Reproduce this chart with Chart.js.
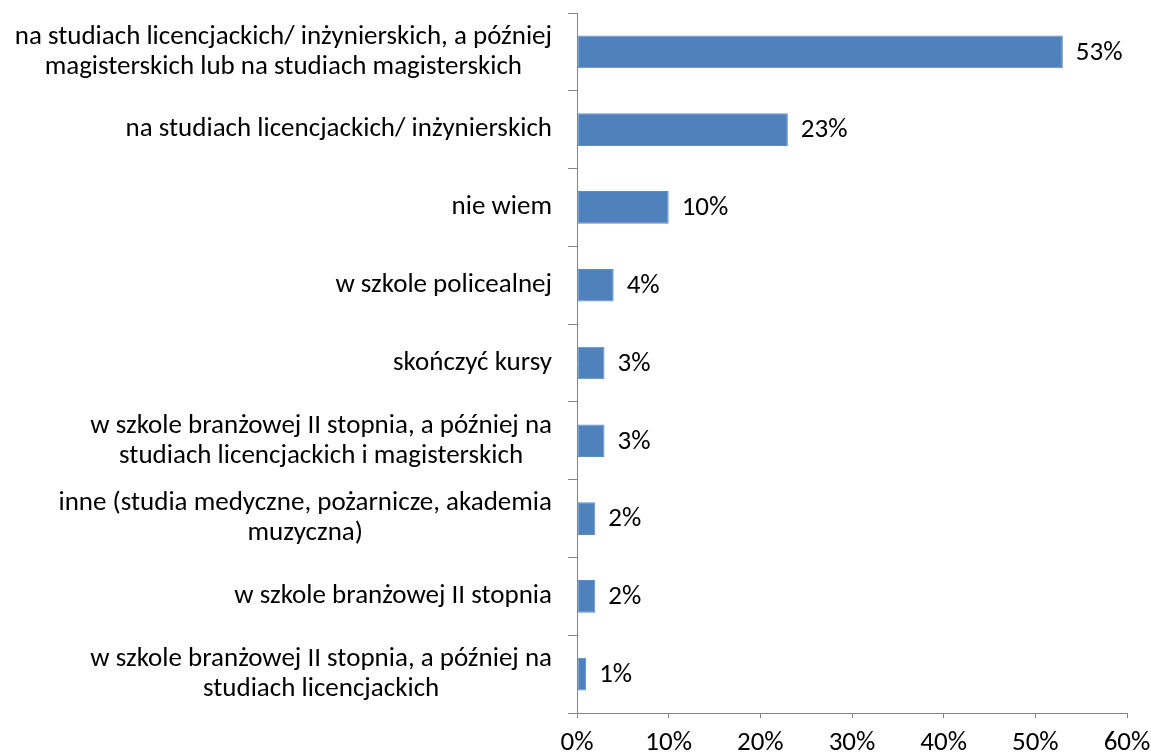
<!DOCTYPE html>
<html>
<head>
<meta charset="utf-8">
<script src="https://cdn.jsdelivr.net/npm/chart.js@4.4.1/dist/chart.umd.min.js"></script>
<style>
  html, body { margin: 0; padding: 0; background: #fff; }
</style>
</head>
<body>
<canvas id="barChart" width="1151" height="752"></canvas>
<script>
// Data
const categories = [
    ['na studiach licencjackich/ inżynierskich, a później', 'magisterskich lub na studiach magisterskich'],
    ['na studiach licencjackich/ inżynierskich'],
    ['nie wiem'],
    ['w szkole policealnej'],
    ['skończyć kursy'],
    ['w szkole branżowej II stopnia, a później na', 'studiach licencjackich i magisterskich'],
    ['inne (studia medyczne, pożarnicze, akademia', 'muzyczna)'],
    ['w szkole branżowej II stopnia'],
    ['w szkole branżowej II stopnia, a później na', 'studiach licencjackich']
];
const values = [53, 23, 10, 4, 3, 3, 2, 2, 1];
const xTicks = [0, 10, 20, 30, 40, 50, 60];

const fontFamily = "Carlito, Calibri, 'Open Sans', sans-serif";
const fontSize = 27;
const textColor = '#000000';
const axisColor = '#868686';

// Category labels: each block centred on itself, block right-aligned to the axis
const categoryLabels = {
    id: 'categoryLabels',
    afterDraw(chart) {
        const ctx = chart.ctx;
        const y = chart.scales.y;
        const lineH = 30;
        ctx.save();
        ctx.font = fontSize + 'px ' + fontFamily;
        ctx.fillStyle = textColor;
        ctx.textAlign = 'center';
        ctx.textBaseline = 'middle';
        categories.forEach((lines, i) => {
            const py = y.getPixelForTick(i);
            const maxW = Math.max(...lines.map(l => ctx.measureText(l).width));
            const cx = chart.chartArea.left - 25 - maxW / 2;
            const top = py - (lines.length - 1) * lineH / 2;
            lines.forEach((l, j) => ctx.fillText(l, cx, top + j * lineH));
        });
        ctx.restore();
    }
};

// Value labels at the end of each bar
const valueLabels = {
    id: 'valueLabels',
    afterDatasetsDraw(chart) {
        const ctx = chart.ctx;
        const meta = chart.getDatasetMeta(0);
        ctx.save();
        ctx.font = fontSize + 'px ' + fontFamily;
        ctx.fillStyle = textColor;
        ctx.textAlign = 'left';
        ctx.textBaseline = 'middle';
        meta.data.forEach((bar, i) => {
            ctx.fillText(values[i] + '%', bar.x + 13, bar.y + 1);
        });
        ctx.restore();
    }
};

new Chart(document.getElementById('barChart'), {
    type: 'bar',
    data: {
        labels: categories.map(c => c.join(' ')),
        datasets: [{
            data: values,
            backgroundColor: '#4F81BD',
            borderColor: '#5E8CC4',
            borderWidth: 1,
            borderSkipped: false,
            categoryPercentage: 1,
            barPercentage: 0.42
        }]
    },
    options: {
        indexAxis: 'y',
        responsive: false,
        animation: false,
        events: [],
        layout: { padding: { top: 13, right: 24, left: 0, bottom: 0 } },
        plugins: {
            legend: { display: false },
            tooltip: { enabled: false }
        },
        scales: {
            x: {
                min: 0,
                max: 60,
                afterBuildTicks: scale => { scale.ticks = xTicks.map(v => ({ value: v })); },
                afterFit: scale => {
                    scale.height = 39;
                    scale.paddingRight = 0;
                    scale.paddingLeft = 0;
                },
                ticks: {
                    callback: v => v + '%',
                    color: textColor,
                    font: { family: fontFamily, size: fontSize },
                    padding: 9,
                    maxRotation: 0
                },
                grid: {
                    drawOnChartArea: false,
                    drawTicks: true,
                    tickLength: 5,
                    color: axisColor
                },
                border: { color: axisColor, width: 1 }
            },
            y: {
                afterFit: scale => { scale.width = 577; },
                ticks: { display: false },
                grid: {
                    offset: true,
                    drawOnChartArea: false,
                    drawTicks: true,
                    tickLength: 9,
                    color: axisColor
                },
                border: { color: axisColor, width: 1 }
            }
        }
    },
    plugins: [categoryLabels, valueLabels]
});
</script>
</body>
</html>
